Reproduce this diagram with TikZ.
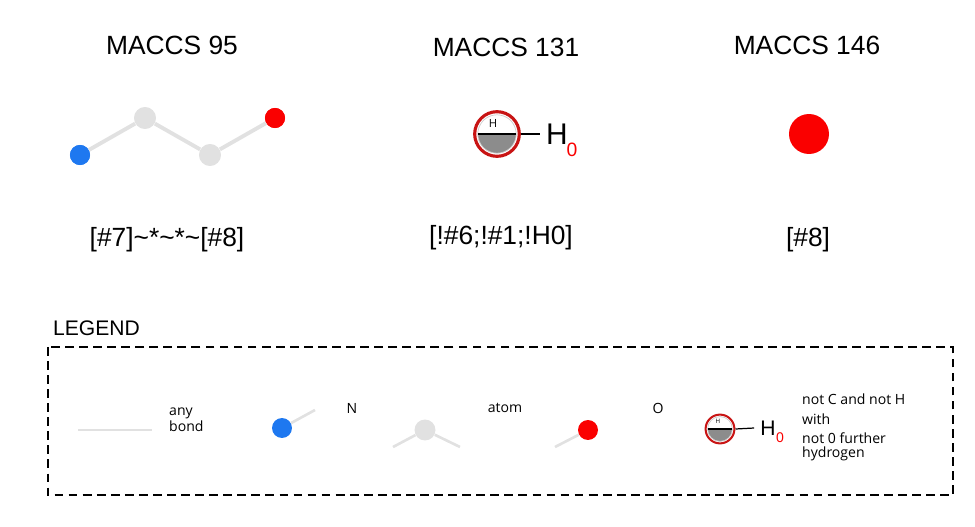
\documentclass[tikz,border=0pt]{standalone}
\usepackage{fontspec}
\setmainfont{Liberation Sans}
\newfontfamily\legendfont{Open Sans}
\usetikzlibrary{positioning}
\definecolor{atomgrey}{RGB}{225,225,225}
\definecolor{nblue}{RGB}{30,120,240}
\definecolor{ored}{RGB}{250,0,0}
\definecolor{ringred}{RGB}{200,20,20}
\tikzset{
    bond/.style={atomgrey,line width=2.2pt},
    atom/.style={circle,inner sep=0pt,minimum size=#1},
    title/.style={font=\fontsize{15}{17}\selectfont},
    smarts/.style={font=\fontsize{15}{17}\selectfont},
    legtext/.style={font=\legendfont\fontsize{8}{11}\selectfont,align=left},
}
\newcommand{\hring}[3]{% center, outer radius, name
  \fill[white] (#1) circle (#2);
  \fill[gray!90] ([xshift=-0.8*#2]#1) arc (180:360:0.8*#2) -- cycle;
  \draw[gray!40,line width=0.4pt] (#1) circle (0.8*#2);
  \draw[black,line width=0.6pt] ([xshift=-0.8*#2]#1) -- ([xshift=0.8*#2]#1);
  \draw[ringred,line width=0.13*#2] (#1) circle (0.93*#2);
  \coordinate (#3) at ([xshift=#2]#1);
}
\begin{document}
\begin{tikzpicture}[x=0.02cm,y=-0.02cm]
\useasboundingbox (0,0) rectangle (975,527);

% titles
\node[title] (t95) at (172,45) {MACCS 95};
\node[title] (t131) at (506,47) {MACCS 131};
\node[title] (t146) at (807,45) {MACCS 146};

% MACCS 95
\node[atom=20pt*0.57,fill=nblue] (a1) at (80,155) {};
\node[atom=22pt*0.57,fill=atomgrey] (a2) at (145,118) {};
\node[atom=22pt*0.57,fill=atomgrey] (a3) at (210,155) {};
\node[atom=20pt*0.57,fill=ored] (a4) at (275,118) {};
\draw[bond] (a1) -- (a2);
\draw[bond] (a2) -- (a3);
\draw[bond] (a3) -- (a4);
\node[atom=20pt*0.57,fill=nblue] at (a1) {};
\node[atom=20pt*0.57,fill=ored] at (a4) {};

% MACCS 131
\hring{497,134}{0.48cm}{h1}
\node[font=\fontsize{8}{8}\selectfont\legendfont,scale=0.8] at (493,123) {H};
\node[font=\fontsize{17}{17}\selectfont] (hh1) at (557,134) {H};
\node[ored,font=\fontsize{11}{11}\selectfont] (hz1) at (572,150) {0};
\draw[line width=0.8pt] (h1) -- (hh1.west);

% MACCS 146
\node[atom=0.8cm,fill=ored] (o146) at (809,134) {};

% SMARTS
\node[smarts] (s95) at (167,240) {[\#7]\textasciitilde*\textasciitilde*\textasciitilde[\#8]};
\node[smarts] (s131) at (501,238) {[!\#6;!\#1;!H0]};
\node[smarts] (s146) at (808,240) {[\#8]};

% legend
\node[font=\fontsize{12}{14}\selectfont,anchor=west] (leg) at (47,328) {LEGEND};
\draw[dashed,line width=0.7pt,dash pattern=on 5pt off 3pt] (48,347) rectangle (953,495);

\coordinate (b1) at (78,430);
\coordinate (b2) at (152,430);
\draw[bond,line width=1.3pt] (b1) -- (b2);
\node[legtext,anchor=west] (lbond) at (163,420) {any\\[-2pt]bond};

\coordinate (nb) at (315,410);
\node[atom=0.4cm,fill=nblue] (ln) at (282,428) {};
\draw[bond,line width=1.5pt] (ln) -- (nb);
\node[legtext] (lN) at (352,408) {N};

\coordinate (cb1) at (393,447);
\coordinate (cb2) at (460,447);
\node[atom=0.42cm,fill=atomgrey] (lc) at (425,430) {};
\draw[bond,line width=1.5pt] (lc) -- (cb1);
\draw[bond,line width=1.5pt] (lc) -- (cb2);
\node[legtext] (lat) at (505,408) {atom};

\coordinate (ob) at (555,447);
\node[atom=0.4cm,fill=ored] (lo) at (588,430) {};
\draw[bond,line width=1.5pt] (lo) -- (ob);
\node[legtext] (lO) at (658,408) {O};

\hring{720,429}{0.31cm}{h2}
\node[font=\legendfont,scale=0.35] at (718,421) {H};
\node[font=\fontsize{12}{12}\selectfont] (hh2) at (768,428) {H};
\node[ored,font=\fontsize{8}{8}\selectfont] (hz2) at (780,438) {0};
\draw[line width=0.7pt] (h2) -- (hh2.west);
\node[legtext,anchor=north west] (lnot) at (796,388) {not C and not H\\with\\not 0 further\\[-3pt]hydrogen};
\end{tikzpicture}
\end{document}
